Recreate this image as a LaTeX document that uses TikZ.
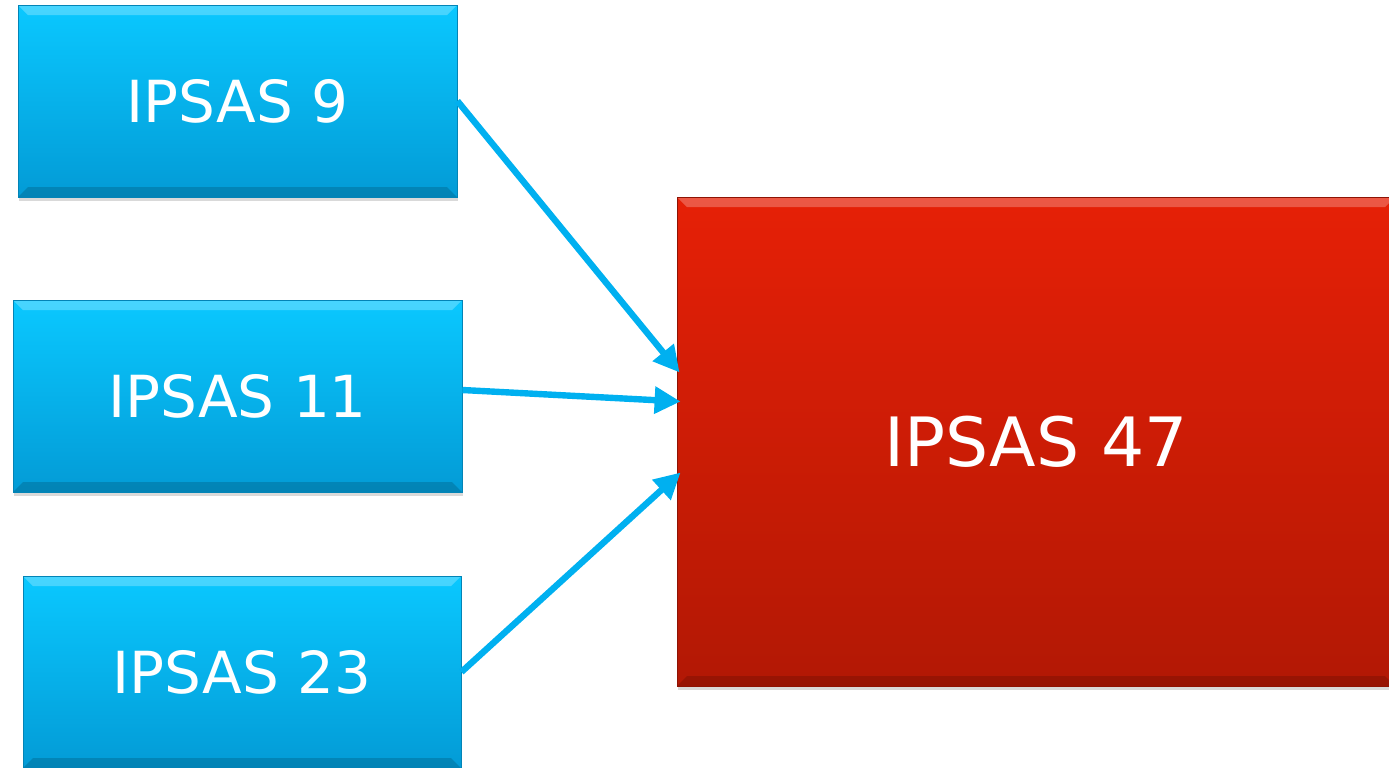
\documentclass[tikz,border=0pt]{standalone}
\usepackage{fontspec}
\setmainfont{DejaVu Sans}
\usepackage{tikz}
\usetikzlibrary{shadows,arrows.meta}

\definecolor{boxtop}{RGB}{10,200,255}
\definecolor{boxmid}{RGB}{8,185,245}
\definecolor{boxbot}{RGB}{3,155,214}
\definecolor{redtop}{RGB}{230,32,6}
\definecolor{redmid}{RGB}{212,29,6}
\definecolor{redbot}{RGB}{178,24,5}
\definecolor{linkblue}{RGB}{0,176,240}

\begin{document}
\begin{tikzpicture}[x=0.5pt,y=-0.5pt,
    std/.style={rectangle,inner sep=0pt,text=white,font=\fontsize{29}{34}\selectfont,
        top color=boxtop,middle color=boxmid,bottom color=boxbot,
        draw=boxbot!85!black,line width=0.4pt,
        drop shadow={shadow xshift=0.6pt,shadow yshift=-2pt,opacity=0.3},
        path picture={
            \fill[white,opacity=0.25] (path picture bounding box.north west)
                -- (path picture bounding box.north east) -- ++(-5pt,-5pt)
                -- ([shift={(5pt,-5pt)}]path picture bounding box.north west) -- cycle;
            \fill[black,opacity=0.15] (path picture bounding box.south west)
                -- (path picture bounding box.south east) -- ++(-5pt,5pt)
                -- ([shift={(5pt,5pt)}]path picture bounding box.south west) -- cycle;
        }},
    target/.style={std,top color=redtop,middle color=redmid,bottom color=redbot,
        draw=redbot!80!black,font=\fontsize{34}{40}\selectfont},
    link/.style={-{Triangle[length=13pt,width=13pt]},line width=3.2pt,draw=linkblue}]
    \useasboundingbox (0,0) rectangle (1389,767);

    \node[std,minimum width=219.5pt,minimum height=96pt] (i9) at (237.5,101) {IPSAS 9};
    \node[std,minimum width=224.5pt,minimum height=96pt] (i11) at (237.5,396) {IPSAS 11};
    \node[std,minimum width=219pt,minimum height=96pt] (i23) at (242,672) {IPSAS 23};
    \node[target,minimum width=359pt,minimum height=244.5pt] (i47) at (1036,441.5) {IPSAS 47};

    \draw[link] (i9.east) -- ([xshift=1.5pt,yshift=34.5pt]i47.west);
    \draw[link] ([yshift=3pt]i11.east) -- ([xshift=2pt,yshift=20pt]i47.west);
    \draw[link] (i23.east) -- ([xshift=2pt,yshift=-15.5pt]i47.west);
\end{tikzpicture}
\end{document}
